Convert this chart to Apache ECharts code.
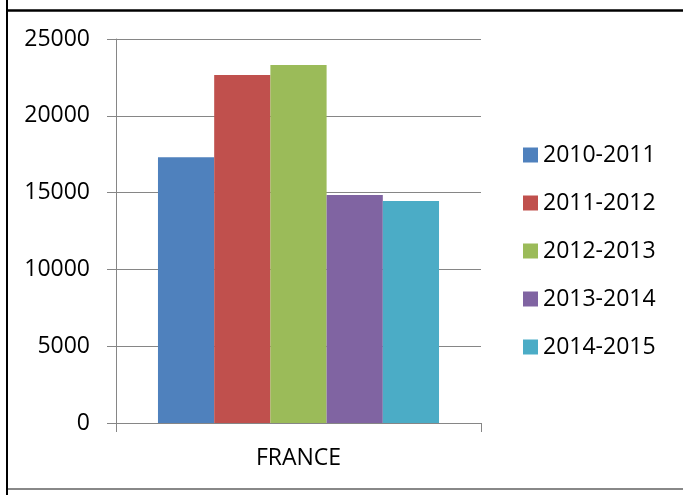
<!DOCTYPE html>
<html>
<head>
<meta charset="utf-8">
<script src="https://cdn.jsdelivr.net/npm/echarts@6/dist/echarts.min.js"></script>
<style>html,body{margin:0;padding:0;background:#fff}#c{width:683px;height:495px}</style>
</head>
<body>
<div id="c"></div>
<script>
const categories = ['FRANCE'];
const seriesNames = ['2010-2011', '2011-2012', '2012-2013', '2013-2014', '2014-2015'];
const v2010_2011 = [17300];
const v2011_2012 = [22650];
const v2012_2013 = [23300];
const v2013_2014 = [14850];
const v2014_2015 = [14450];
const seriesValues = [v2010_2011, v2011_2012, v2012_2013, v2013_2014, v2014_2015];
const colors = ['#4F81BD', '#C0504D', '#9BBB59', '#8064A2', '#4BACC6'];
const yTicks = { min: 0, max: 25000, interval: 5000 };

const font = '"Open Sans", "Liberation Sans", sans-serif';
const chart = echarts.init(document.getElementById('c'), null, { renderer: 'canvas' });
chart.setOption({
  animation: false,
  backgroundColor: '#fff',
  color: colors,
  grid: { left: 116, right: 202, top: 39, bottom: 72, containLabel: false },
  legend: {
    orient: 'vertical',
    left: 518,
    top: 138,
    itemWidth: 15,
    itemHeight: 15,
    itemGap: 24,
    icon: 'rect',
    textStyle: { fontFamily: font, fontSize: 23, color: '#000', lineHeight: 24 },
    data: seriesNames
  },
  xAxis: {
    type: 'category',
    data: categories,
    axisLine: { lineStyle: { color: '#868686', width: 1 } },
    axisTick: { show: true, length: 9, lineStyle: { color: '#868686' } },
    axisLabel: { fontFamily: font, fontSize: 23, color: '#000', margin: 24 }
  },
  yAxis: {
    type: 'value',
    min: yTicks.min, max: yTicks.max, interval: yTicks.interval,
    axisLine: { show: true, lineStyle: { color: '#868686', width: 1 } },
    axisTick: { show: true, length: 9, lineStyle: { color: '#868686' } },
    splitLine: { lineStyle: { color: '#868686', width: 1 } },
    axisLabel: { fontFamily: font, fontSize: 23, color: '#000', margin: 26, formatter: v => String(v) }
  },
  series: seriesNames.map((n, i) => ({
    name: n,
    type: 'bar',
    data: seriesValues[i],
    barGap: '0%',
    barCategoryGap: '23%',
    itemStyle: { color: colors[i] }
  })),
  graphic: [
    { type: 'line', shape: { x1: 7, y1: 0, x2: 7, y2: 495 }, style: { stroke: '#000', lineWidth: 2 } },
    { type: 'line', shape: { x1: 7, y1: 10.5, x2: 683, y2: 10.5 }, style: { stroke: '#000', lineWidth: 2.5 } },
    { type: 'line', shape: { x1: 8, y1: 489, x2: 683, y2: 489 }, style: { stroke: '#888', lineWidth: 2 } }
  ]
});
</script>
</body>
</html>
